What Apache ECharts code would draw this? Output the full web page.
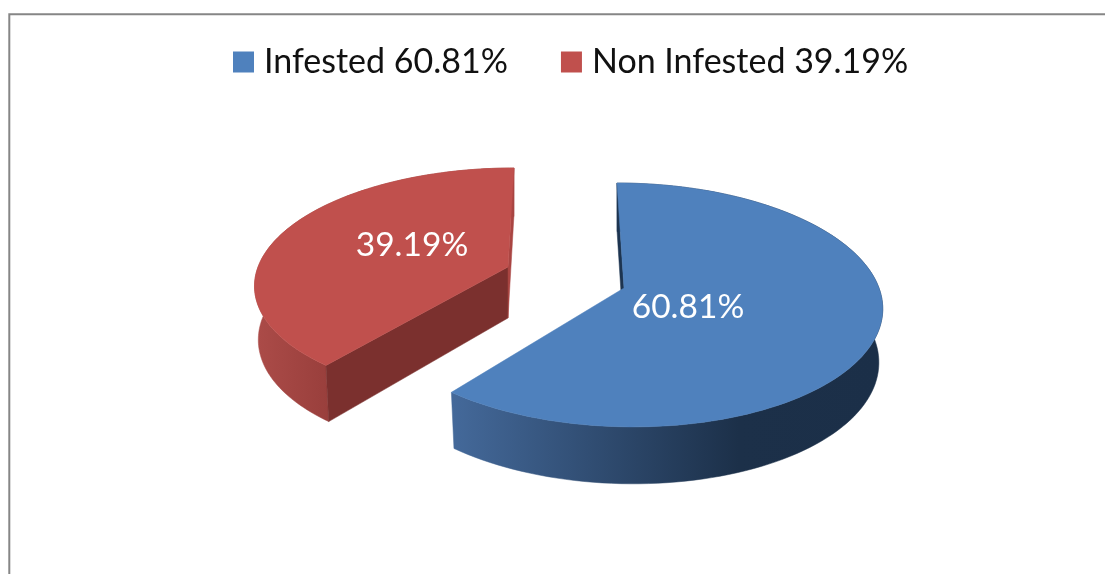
<!DOCTYPE html>
<html>
<head>
<meta charset="utf-8">
<style>html,body{margin:0;padding:0;background:#fff}#c{width:1105px;height:574px}</style>
<script src="https://cdn.jsdelivr.net/npm/echarts@6/dist/echarts.min.js"></script>
</head>
<body>
<div id="c"></div>
<script>
var categories = ['Infested', 'Non Infested'];
var values = [60.81, 39.19];
var topColors = ['#4f81bd', '#c0504d'];

// Projection of each exploded slice: apex, radii, perspective and shear
var slices = [
  {x: 624, y: 288, rx: 255, ry: 119.6, k: 0.139, s: -8, startWall: '#1d3450', endWall: null,
   rim: [[0, '#1b2f48'], [0.33, '#1c3049'], [1, '#44699a']], gx0: 880, gx1: 452,
   labelX: 688, labelY: 307},
  {x: 508, y: 267, rx: 250, ry: 112.8, k: 0.139, s: 6.8, startWall: '#7b302e', endWall: '#a94542',
   rim: [[0, '#ab4b48'], [1, '#993f3c']], gx0: 258, gx1: 328,
   labelX: 412, labelY: 245}
];
var SHRINK = 0.985, DEPTH = 53, DEPTH_VAR = 6, APEX_DEPTH = 51, FONT = 'Lato, Carlito, sans-serif';

function rad(pct) { return pct / 100 * Math.PI * 2; }
function topPt(g, a) {
  var d = 1 + g.k * Math.cos(a);
  return [g.x + (g.rx * Math.sin(a) + g.s * Math.cos(a)) / d, g.y - g.ry * Math.cos(a) / d];
}
function lowPt(g, a) {
  var p = topPt(g, a);
  return [g.x + (p[0] - g.x) * SHRINK, g.y + (p[1] - g.y) * SHRINK + DEPTH - DEPTH_VAR * Math.cos(a)];
}
function arc(g, a0, a1, fn) {
  var out = [], n = 120;
  for (var i = 0; i <= n; i++) out.push(fn(g, a0 + (a1 - a0) * i / n));
  return out;
}
function poly(points, fill) {
  return {type: 'polygon', shape: {points: points}, style: {fill: fill, stroke: fill, lineWidth: 0.5}, silent: true};
}
function makeRender(index) {
  return function (params, api) {
    var g = slices[index];
    var before = 0;
    for (var i = 0; i < index; i++) before += values[i];
    var a0 = rad(before), a1 = rad(before + api.value(0));
    var apex = [g.x, g.y], apexLow = [g.x, g.y + APEX_DEPTH];
    var topArc = arc(g, a0, a1, topPt), lowArc = arc(g, a0, a1, lowPt);
    var rimFill = new echarts.graphic.LinearGradient(g.gx0, 0, g.gx1, 0,
      g.rim.map(function (s) { return {offset: s[0], color: s[1]}; }), true);
    var kids = [poly(topArc.concat(lowArc.slice().reverse()), rimFill)];
    if (g.startWall) kids.push(poly([topPt(g, a0), apex, apexLow, lowPt(g, a0)], g.startWall));
    if (g.endWall) kids.push(poly([topPt(g, a1), apex, apexLow, lowPt(g, a1)], g.endWall));
    kids.push(poly([apex].concat(topArc), topColors[index]));
    kids.push({type: 'text', style: {x: g.labelX, y: g.labelY, text: api.value(0).toFixed(2) + '%',
      fill: '#fff', font: '33.5px ' + FONT, align: 'center', verticalAlign: 'middle'}, silent: true});
    return {type: 'group', children: kids};
  };
}

var chart = echarts.init(document.getElementById('c'), null, {renderer: 'canvas'});
chart.setOption({
  animation: false,
  backgroundColor: '#fff',
  legend: {
    left: 228, top: 40, itemWidth: 21, itemHeight: 21, itemGap: 53, icon: 'rect',
    selectedMode: false,
    textStyle: {fontFamily: FONT, fontSize: 34, color: '#111', padding: [0, 0, 0, 5]},
    data: categories.map(function (c, i) { return c + ' ' + values[i].toFixed(2) + '%'; })
  },
  graphic: [{type: 'polyline', shape: {points: [[9.3, 574], [9.3, 14.3], [1105, 14.3]]},
    style: {stroke: '#868686', lineWidth: 2, fill: null}, silent: true}],
  series: categories.map(function (c, i) {
    return {
      type: 'custom', coordinateSystem: 'none', name: c + ' ' + values[i].toFixed(2) + '%',
      itemStyle: {color: topColors[i]}, data: [[values[i]]], renderItem: makeRender(i), z: i === 1 ? 2 : 3
    };
  })
});
</script>
</body>
</html>
